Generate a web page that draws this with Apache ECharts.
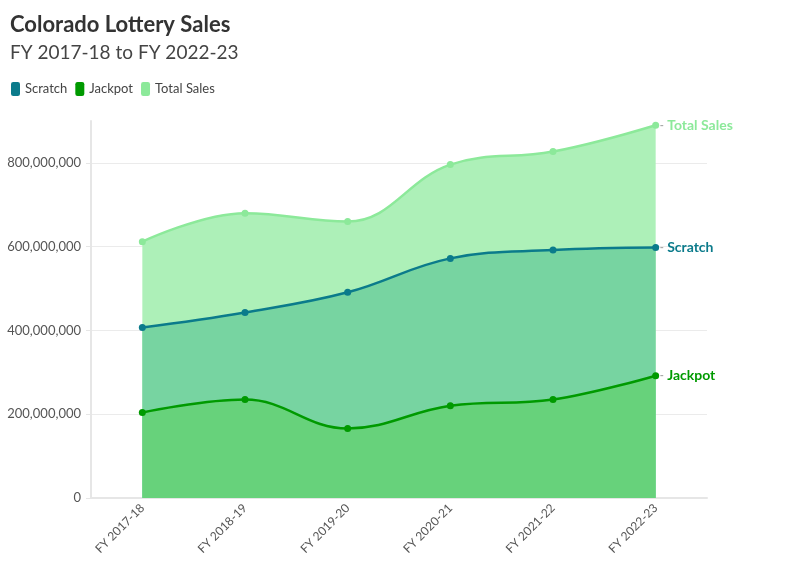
<!DOCTYPE html>
<html>
<head>
<meta charset="utf-8">
<script src="https://cdn.jsdelivr.net/npm/echarts@6/dist/echarts.min.js"></script>
<style>
  html, body { margin: 0; padding: 0; background: #fff; }
  #chart { width: 796px; height: 575px; }
</style>
</head>
<body>
<div id="chart"></div>
<script>
// Datos
const years = ['FY 2017-18', 'FY 2018-19', 'FY 2019-20', 'FY 2020-21', 'FY 2021-22', 'FY 2022-23'];
const scratch = [407000000, 443000000, 491000000, 572000000, 592000000, 598000000];
const jackpot = [204000000, 235000000, 166000000, 220000000, 235000000, 292000000];
const totalSales = [612000000, 680000000, 660000000, 796000000, 827000000, 890000000];

const FONT = 'Lato, "Noto Sans", sans-serif';

function makeSeries(name, data, color, areaColor, z) {
    return {
        name: name,
        type: 'line',
        data: data,
        z: z,
        smooth: 0.4,
        symbol: 'circle',
        symbolSize: 7,
        lineStyle: { width: 2.5, color: color },
        itemStyle: { color: color },
        areaStyle: { color: areaColor, opacity: 1 },
        endLabel: {
            show: true,
            distance: 4,
            formatter: '{d|-} {a}',
            color: color,
            fontFamily: FONT,
            fontWeight: 'bold',
            fontSize: 14,
            rich: {
                d: { color: '#aaa', fontSize: 11, fontFamily: FONT }
            }
        },
        emphasis: { disabled: true }
    };
}

const chart = echarts.init(document.getElementById('chart'));

const option = {
    animation: false,
    title: {
        text: 'Colorado Lottery Sales',
        subtext: 'FY 2017-18 to FY 2022-23',
        left: 5,
        top: 9,
        itemGap: 7,
        textStyle: { fontFamily: FONT, fontSize: 22, fontWeight: 'bold', color: '#333' },
        subtextStyle: { fontFamily: FONT, fontSize: 19, color: '#444' }
    },
    legend: {
        left: 6,
        top: 77,
        icon: 'roundRect',
        itemWidth: 9,
        itemHeight: 14,
        itemGap: 8,
        textStyle: { fontFamily: FONT, fontSize: 13, color: '#444' },
        data: ['Scratch', 'Jackpot', 'Total Sales']
    },
    grid: { left: 91, right: 89, top: 121, bottom: 77 },
    xAxis: {
        type: 'category',
        data: years,
        boundaryGap: true,
        axisLine: { lineStyle: { color: '#e6e6e6', width: 2 } },
        axisTick: { alignWithLabel: true, length: 5, lineStyle: { color: '#e6e6e6' } },
        axisLabel: { rotate: 45, fontFamily: FONT, fontSize: 12, color: '#555', margin: 8 }
    },
    yAxis: {
        type: 'value',
        min: 0,
        max: 900000000,
        interval: 200000000,
        axisLine: { show: true, lineStyle: { color: '#e6e6e6', width: 2 } },
        axisTick: { show: true, length: 5, lineStyle: { color: '#e6e6e6' } },
        splitLine: { show: true, showMaxLine: false, lineStyle: { color: '#ebebeb' } },
        axisLabel: {
            showMaxLabel: false,
            fontFamily: FONT,
            fontSize: 13,
            color: '#555',
            margin: 10,
            formatter: v => v.toLocaleString('en-US')
        }
    },
    series: [
        makeSeries('Scratch', scratch, '#0b7b8b', '#77d4a1', 2),
        makeSeries('Jackpot', jackpot, '#009a00', '#67d27b', 3),
        makeSeries('Total Sales', totalSales, '#8ce99a', '#adf0b8', 1)
    ]
};

chart.setOption(option);
</script>
</body>
</html>
